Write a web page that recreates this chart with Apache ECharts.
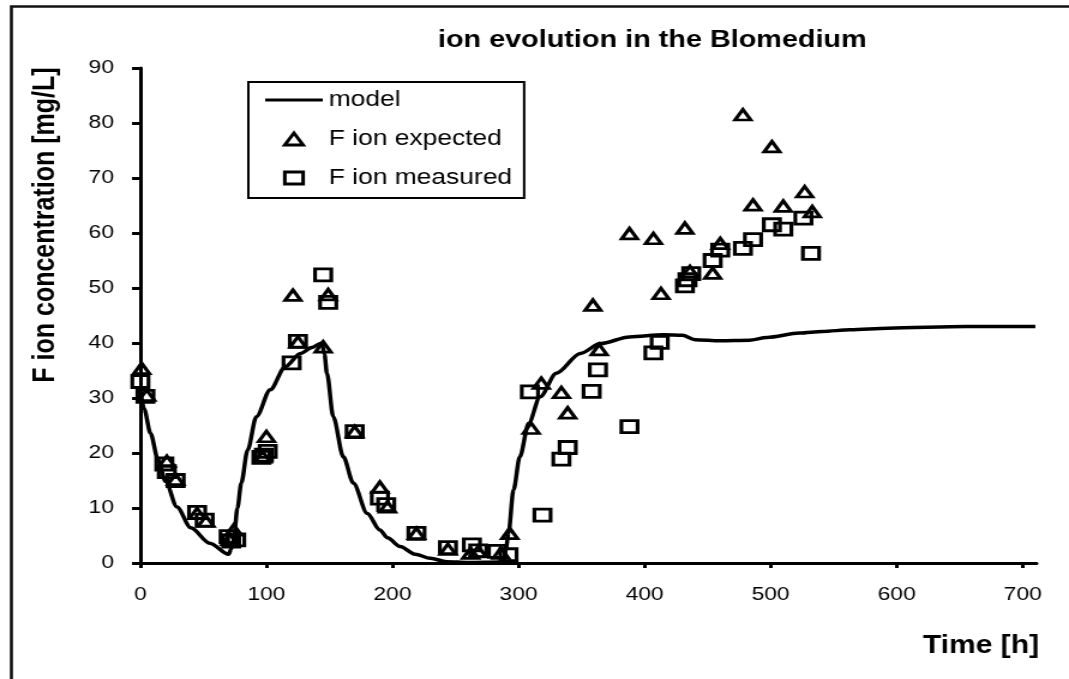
<!DOCTYPE html>
<html>
<head>
<meta charset="utf-8">
<title>ion evolution in the Blomedium</title>
<script src="https://cdn.jsdelivr.net/npm/echarts@6/dist/echarts.min.js"></script>
<style>
  html, body { margin: 0; padding: 0; background: #fff; overflow: hidden; }
  /* chart is laid out on a narrower canvas and widened to the page */
  #chart { width: 891px; height: 679px; transform: scaleX(1.19978); transform-origin: 0 0; }
</style>
</head>
<body>
<div id="chart"></div>
<script>
// Time axis [h] and concentration [mg/L]
const xTicks = [0, 100, 200, 300, 400, 500, 600, 700];
const yTicks = [0, 10, 20, 30, 40, 50, 60, 70, 80, 90];

// model curve
const modelT = [0, 3, 8, 14, 20, 29, 40, 55, 70, 72, 74, 77, 80, 85, 92, 103, 115, 127, 136, 144, 146, 148, 153, 161, 169, 180, 190, 196, 206, 218, 230, 243, 260, 285, 288, 290, 292, 296, 301, 308, 317, 330, 349, 365, 388, 415, 430, 440, 460, 483, 497, 523, 541, 563, 593, 655, 710];
const modelC = [31.5, 28, 23.6, 18.8, 14.8, 10.2, 6.4, 3.6, 1.6, 2.5, 4.2, 10, 14.5, 20.5, 26.6, 31.5, 35.7, 38.1, 39.2, 40.0, 38, 34.5, 26.6, 19.3, 14.5, 9.0, 6.0, 4.6, 3.0, 1.6, 0.85, 0.25, 0.1, 0.2, 0.5, 2.5, 5.4, 13.3, 19.3, 25.4, 30.2, 34.5, 38.1, 39.9, 41.1, 41.5, 41.4, 40.6, 40.4, 40.5, 41.0, 41.8, 42.1, 42.4, 42.7, 43.0, 43.0];

// F ion expected
const expectedT = [1, 5, 21, 28, 45, 52, 71, 74, 97, 100, 121, 125, 145, 149, 170, 190, 196, 219, 244, 262, 268, 286, 293, 310, 318, 334, 339, 359, 364, 388, 407, 413, 432, 436, 454, 460, 478, 486, 501, 510, 527, 533];
const expectedC = [35.4, 30.5, 18.5, 15.2, 9.0, 7.6, 4.3, 6.0, 19.3, 23.0, 48.7, 40.2, 39.3, 48.8, 23.9, 13.8, 10.2, 5.4, 2.5, 1.8, 2.1, 1.8, 5.4, 24.5, 32.7, 31.0, 27.3, 46.9, 38.8, 59.9, 59.0, 49.0, 60.9, 53.0, 52.7, 58.1, 81.5, 65.1, 75.7, 64.9, 67.5, 63.9];

// F ion measured
const measuredT = [0, 4, 19, 21, 28, 45, 51, 70, 72, 76, 96, 98, 101, 120, 125, 145, 149, 170, 190, 195, 219, 244, 263, 268, 283, 292, 309, 319, 334, 339, 358, 363, 388, 407, 412, 432, 434, 437, 454, 460, 478, 486, 501, 510, 526, 532];
const measuredC = [33.0, 30.3, 18.0, 16.6, 15.0, 9.2, 7.8, 4.8, 4.0, 4.2, 19.2, 19.6, 20.3, 36.4, 40.3, 52.4, 47.4, 23.9, 11.8, 10.6, 5.4, 2.8, 3.3, 2.2, 2.1, 1.5, 31.1, 8.7, 18.9, 21.0, 31.2, 35.1, 24.8, 38.2, 40.1, 50.4, 51.5, 52.6, 55.0, 56.9, 57.2, 58.8, 61.5, 60.7, 62.7, 56.3];

const zip = (xs, ys) => xs.map((x, i) => [x, ys[i]]);

const FONT = "'Liberation Sans', Arial, sans-serif";
const hollow = { color: 'transparent', borderColor: '#000', borderWidth: 3, opacity: 1 };

const chart = echarts.init(document.getElementById('chart'), null, { renderer: 'canvas' });

chart.setOption({
  backgroundColor: '#fff',
  animation: false,
  title: {
    text: 'ion evolution in the Blomedium',
    left: 365,
    top: 28,
    padding: 0,
    textStyle: { fontFamily: FONT, fontSize: 24, fontWeight: 'bold', color: '#000' }
  },
  legend: {
    orient: 'vertical',
    left: 207,
    top: 82,
    padding: [6, 10, 8, 14],
    itemGap: 15,
    itemWidth: 48,
    itemHeight: 12,
    symbolKeepAspect: true,
    borderColor: '#000',
    borderWidth: 2,
    backgroundColor: '#fff',
    selectedMode: false,
    textStyle: { fontFamily: FONT, fontSize: 22, color: '#000', lineHeight: 24 },
    data: [
      { name: 'model', icon: 'path://M0,0 H48 V3 H0 Z', itemStyle: { color: '#000', borderWidth: 0, opacity: 1 } },
      { name: 'F ion expected', icon: 'path://M7,0 L14,11 L0,11 Z', itemStyle: hollow },
      { name: 'F ion measured', icon: 'path://M0,0 H14 V11 H0 Z', itemStyle: hollow }
    ]
  },
  grid: { left: 117, right: 27, top: 68, bottom: 116, containLabel: false },
  xAxis: {
    type: 'value',
    min: 0,
    max: 711,
    interval: 100,
    splitLine: { show: false },
    axisLine: { onZero: true, lineStyle: { color: '#000', width: 3 } },
    axisTick: { show: true, inside: false, length: 5, customValues: xTicks, lineStyle: { color: '#000', width: 3 } },
    axisLabel: { customValues: xTicks, margin: 22, fontFamily: FONT, fontSize: 19, color: '#000' }
  },
  yAxis: {
    type: 'value',
    min: 0,
    max: 90,
    interval: 10,
    splitLine: { show: false },
    axisLine: { show: true, lineStyle: { color: '#000', width: 3 } },
    axisTick: { show: true, inside: false, length: 7, customValues: yTicks, lineStyle: { color: '#000', width: 3 } },
    axisLabel: { customValues: yTicks, margin: 22, fontFamily: FONT, fontSize: 19, color: '#000' }
  },
  graphic: [
    {
      type: 'polyline',
      shape: { points: [[9.5, 679], [9.5, 6.5], [891, 6.5]] },
      style: { stroke: '#111', lineWidth: 2.6, fill: null },
      silent: true
    },
    {
      type: 'text',
      x: 38,
      y: 225,
      rotation: Math.PI / 2,
      style: {
        text: 'F ion concentration [mg/L]',
        font: "bold 25px 'Liberation Sans', Arial, sans-serif",
        fill: '#000',
        align: 'center',
        verticalAlign: 'middle'
      },
      silent: true
    },
    {
      type: 'text',
      x: 866,
      y: 646,
      style: {
        text: 'Time [h]',
        font: "bold 25px 'Liberation Sans', Arial, sans-serif",
        fill: '#000',
        align: 'right',
        verticalAlign: 'middle'
      },
      silent: true
    }
  ],
  series: [
    {
      name: 'model',
      type: 'line',
      data: zip(modelT, modelC),
      symbol: 'none',
      smooth: 0.3,
      smoothMonotone: 'x',
      lineStyle: { color: '#000', width: 3.5 },
      itemStyle: { color: '#000' },
      z: 2
    },
    {
      name: 'F ion expected',
      type: 'scatter',
      data: zip(expectedT, expectedC),
      symbol: 'triangle',
      symbolSize: [13, 10.5],
      itemStyle: hollow,
      z: 3
    },
    {
      name: 'F ion measured',
      type: 'scatter',
      data: zip(measuredT, measuredC),
      symbol: 'rect',
      symbolSize: [13.5, 12],
      itemStyle: hollow,
      z: 3
    }
  ]
});
</script>
</body>
</html>
